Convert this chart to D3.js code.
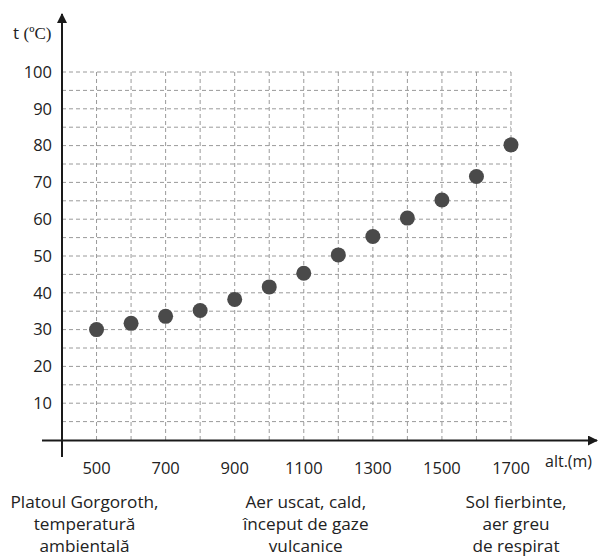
<!DOCTYPE html>
<html>
<head>
<meta charset="utf-8">
<script src="https://cdn.jsdelivr.net/npm/d3@7"></script>
<style>
  html, body { margin: 0; padding: 0; background: #fff; }
  svg { display: block; }
</style>
</head>
<body>
<svg id="chart" width="599" height="560"></svg>
<script>
// ---- data ----
const altitudes = [500, 600, 700, 800, 900, 1000, 1100, 1200, 1300, 1400, 1500, 1600, 1700];
const temperatures = [30, 31.7, 33.6, 35.2, 38.2, 41.6, 45.3, 50.3, 55.3, 60.3, 65.2, 71.6, 80.2];
const xTickLabels = [500, 700, 900, 1100, 1300, 1500, 1700];
const yTickLabels = [10, 20, 30, 40, 50, 60, 70, 80, 90, 100];
const yGridValues = d3.range(5, 101, 5);
const xGridValues = d3.range(500, 1701, 100);
const annotationAnchors = [500, 1100, 1700];
const annotationLines = [
  ["Platoul Gorgoroth,", "temperatură", "ambientală"],
  ["Aer uscat, cald,", "început de gaze", "vulcanice"],
  ["Sol fierbinte,", "aer greu", "de respirat"]
];
const annotationShift = [-12, 2, 5];

// ---- layout ----
const svg = d3.select("#chart");
const x = d3.scaleLinear().domain([400, 1700]).range([62, 511]);
const y = d3.scaleLinear().domain([0, 100]).range([440, 72]);
const sans = "'Open Sans', 'Liberation Sans', sans-serif";
const axisColor = "#1a1a1a";

// gridlines
svg.append("g").selectAll("line.h").data(yGridValues).join("line")
  .attr("x1", x(400)).attr("x2", x(1700))
  .attr("y1", d => y(d)).attr("y2", d => y(d))
  .attr("stroke", "#9a9a9a").attr("stroke-width", 1)
  .attr("stroke-dasharray", "4,3");
svg.append("g").selectAll("line.v").data(xGridValues).join("line")
  .attr("x1", d => x(d)).attr("x2", d => x(d))
  .attr("y1", y(0)).attr("y2", y(100))
  .attr("stroke", "#9a9a9a").attr("stroke-width", 1)
  .attr("stroke-dasharray", "4,3");

// arrow markers
const defs = svg.append("defs");
defs.append("marker").attr("id", "arrow")
  .attr("viewBox", "0 0 10 10").attr("refX", 9).attr("refY", 5)
  .attr("markerWidth", 5).attr("markerHeight", 5)
  .attr("markerUnits", "strokeWidth")
  .attr("orient", "auto")
  .append("path").attr("d", "M0,0 L10,5 L0,10 Z").attr("fill", axisColor);

// axes lines
svg.append("line")
  .attr("x1", 42).attr("x2", 597)
  .attr("y1", y(0) + 0.5).attr("y2", y(0) + 0.5)
  .attr("stroke", axisColor).attr("stroke-width", 2)
  .attr("marker-end", "url(#arrow)");
svg.append("line")
  .attr("x1", x(400)).attr("x2", x(400))
  .attr("y1", 457).attr("y2", 14)
  .attr("stroke", axisColor).attr("stroke-width", 2)
  .attr("marker-end", "url(#arrow)");

// y tick labels
svg.append("g").selectAll("text").data(yTickLabels).join("text")
  .attr("x", 52).attr("y", d => y(d))
  .attr("dy", "0.35em")
  .attr("text-anchor", "end")
  .attr("font-family", sans).attr("font-size", 16.5).attr("fill", "#222")
  .text(d => d);

// x tick labels
svg.append("g").selectAll("text").data(xTickLabels).join("text")
  .attr("x", d => x(d)).attr("y", 468)
  .attr("dy", "0.35em")
  .attr("text-anchor", "middle")
  .attr("font-family", sans).attr("font-size", 16.5).attr("fill", "#222")
  .text(d => d);

// axis titles
const yt = svg.append("text").attr("x", 13).attr("y", 39)
  .attr("font-size", 17).attr("fill", "#222");
yt.append("tspan").attr("font-family", sans).text("t ");
yt.append("tspan").attr("font-family", "'Liberation Serif', 'DejaVu Serif', serif").text("(ºC)");

svg.append("text").attr("x", 545).attr("y", 467)
  .attr("font-family", sans).attr("font-size", 16).attr("fill", "#222")
  .text("alt.(m)");

// dots
svg.append("g").selectAll("circle").data(altitudes).join("circle")
  .attr("cx", d => x(d))
  .attr("cy", (d, i) => y(temperatures[i]))
  .attr("r", 7.5)
  .attr("fill", "#4a4a4a");

// bottom annotations
annotationLines.forEach((lines, i) => {
  const t = svg.append("text")
    .attr("text-anchor", "middle")
    .attr("font-family", sans).attr("font-size", 17.2).attr("fill", "#222");
  lines.forEach((ln, j) => {
    t.append("tspan")
      .attr("x", x(annotationAnchors[i]) + annotationShift[i])
      .attr("y", 508 + j * 22)
      .text(ln);
  });
});
</script>
</body>
</html>
